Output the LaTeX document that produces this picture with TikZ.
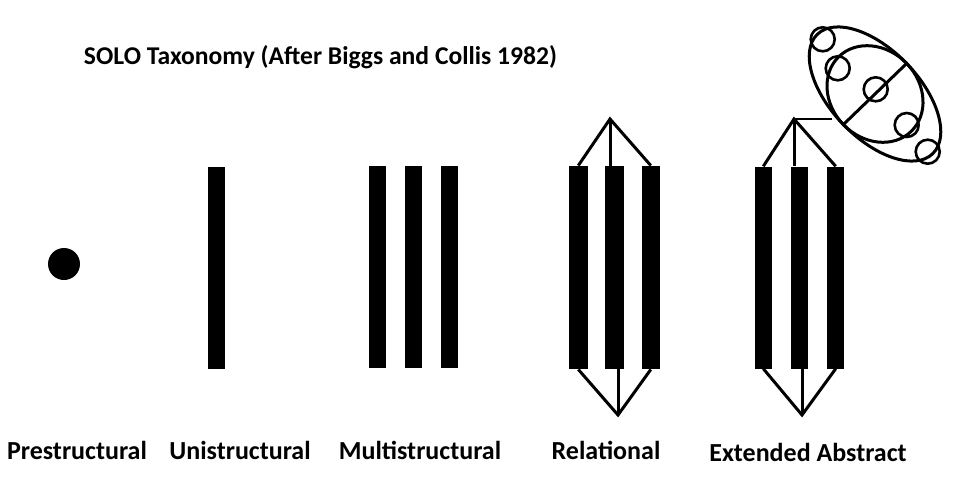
\documentclass[tikz,border=0pt]{standalone}
\usepackage{fontspec}
\setmainfont{Carlito}
\begin{document}
\begin{tikzpicture}[x=1pt,y=-1pt,
  bar/.style={fill=black, draw=none, rectangle, inner sep=0pt, minimum width=17pt, minimum height=202pt},
  wbar/.style={bar, minimum width=18.5pt, minimum height=203.5pt},
  conn/.style={line width=3pt},
  thin/.style={line width=1.5pt},
  ring/.style={line width=2.6pt},
  lbl/.style={font=\bfseries\fontsize{26}{30}\selectfont, inner sep=0pt},
  ttl/.style={font=\bfseries\fontsize{25.6}{30}\selectfont, inner sep=0pt}]
\useasboundingbox (0,0) rectangle (960,492);
% title
\node[ttl] (title) at (320.5,57) {SOLO Taxonomy (After Biggs and Collis 1982)};
% prestructural
\node[circle, fill=black, minimum size=32pt, inner sep=0pt] (pre) at (64,264) {};
% unistructural
\node[bar] (u1) at (216.5,267.5) {};
% multistructural
\node[bar] (m1) at (377.7,267) {};
\node[bar] (m2) at (413.7,267) {};
\node[bar] (m3) at (449.8,267) {};
% relational
\node[wbar] (r1) at (578.3,267.5) {};
\node[wbar] (r2) at (614.5,267.5) {};
\node[wbar] (r3) at (650.8,267.5) {};
\coordinate (rt) at (610,119);
\coordinate (rb) at (618,415);
\draw[conn] (r1.north) -- (rt) -- (r3.north);
\draw[conn] (rt) -- (rt |- r2.north);
\draw[conn] (r1.south) -- (rb) -- (r3.south);
\draw[conn] (rb) -- (rb |- r2.south);
% extended abstract
\node[bar] (e1) at (763.3,267.5) {};
\node[bar] (e2) at (799.2,267.5) {};
\node[bar] (e3) at (835.7,267.5) {};
\coordinate (et) at (794,119);
\coordinate (eb) at (802,415);
\draw[conn] (e1.north) -- (et) -- (e3.north);
\draw[conn] (et) -- (et |- e2.north);
\draw[conn] (e1.south) -- (eb) -- (e3.south);
\draw[conn] (eb) -- (eb |- e2.south);
\coordinate (ej) at (832,119);
\draw[thin] (et) -- (ej);
% abstract ellipse
\begin{scope}[rotate around={-46:(875,94)}]
  \draw[conn] (875,94) ellipse [x radius=83, y radius=44];
  \draw[conn] (875,94) ellipse [x radius=52, y radius=44];
  \draw[conn] (875,50) -- (875,138);
\end{scope}
\foreach \p/\n in {{(822.7,39.3)}/c1,{(837.7,68.3)}/c2,{(875.7,89.3)}/c3,{(906.7,125)}/c4,{(927.7,151.7)}/c5}
  \draw[ring] \p circle [radius=12];
% labels
\node[lbl] (lpre) at (77,450) {Prestructural};
\node[lbl] (luni) at (240,450) {Unistructural};
\node[lbl] (lmul) at (420,450) {Multistructural};
\node[lbl] (lrel) at (606,450) {Relational};
\node[lbl] (lext) at (808,452) {Extended Abstract};
\end{tikzpicture}
\end{document}
